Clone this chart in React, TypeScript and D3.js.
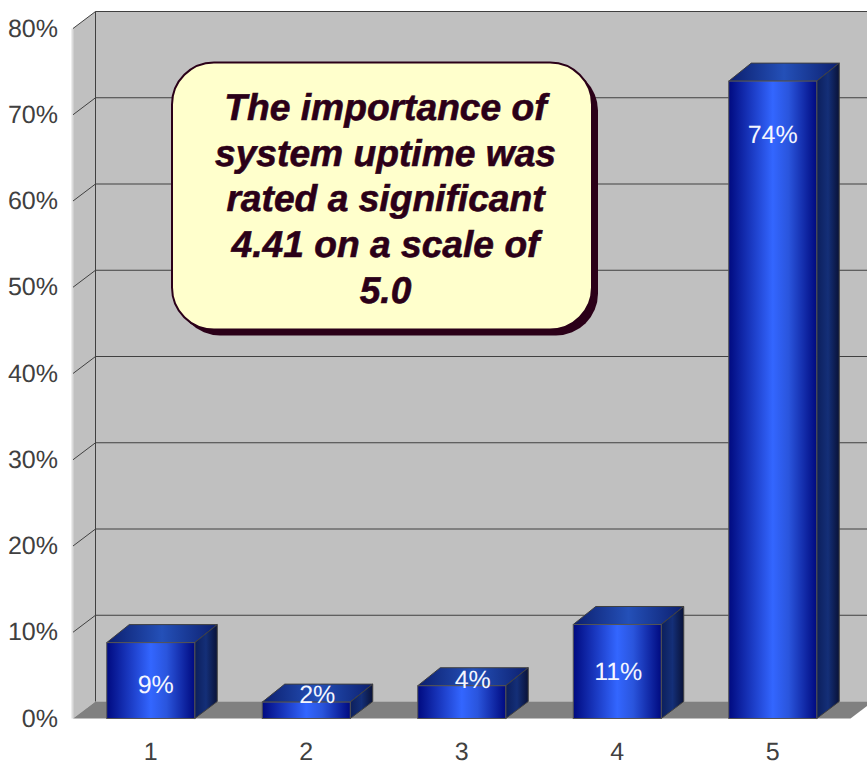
import * as React from "react";
import { range, scaleBand, scaleLinear } from "d3";

const categories = ["1", "2", "3", "4", "5"];
const values = [8.8, 1.9, 3.8, 10.9, 73.9];
const valueLabels = ["9%", "2%", "4%", "11%", "74%"];
// where each data label sits (axis units, px off bar centre), the source chart puts them unevenly
const labelLevels = [3.9, 2.7, 4.5, 5.4, 67.7];
const labelShifts = [5, 11, 11, 1, 0];
const calloutLines = [
  "The importance of",
  "system uptime was",
  "rated a significant",
  "4.41 on a scale of",
  "5.0",
];
const tickValues = range(0, 90, 10);

const width = 867;
const height = 783;
const depth = { x: 22.5, y: 17 };
const textColor = "#404040";
const gridColor = "#404040";
const calloutInk = "#2b0018";

const scaleY = scaleLinear().domain([0, 80]).range([718.5, 28.5]);
const scaleX = scaleBand()
  .domain(categories)
  .range([73, 850.5])
  .paddingInner(0.434)
  .paddingOuter(0.217);

function points(list: number[][]) {
  return list.map((p) => p.join(",")).join(" ");
}

function Gradients() {
  return (
    <defs>
      <linearGradient id="barFront" x1="0" x2="1" y1="0" y2="0">
        <stop offset="0" stopColor="#000a80" />
        <stop offset="0.5" stopColor="#3366ff" />
        <stop offset="0.68" stopColor="#2a55dd" />
        <stop offset="1" stopColor="#000a80" />
      </linearGradient>
      <linearGradient id="barTop" x1="0" x2="1" y1="0" y2="0">
        <stop offset="0" stopColor="#0c1f6e" />
        <stop offset="0.5" stopColor="#2450b8" />
        <stop offset="1" stopColor="#0c1f6e" />
      </linearGradient>
      <linearGradient id="barSide" x1="0" x2="1" y1="0" y2="0">
        <stop offset="0" stopColor="#0c1f5c" />
        <stop offset="0.5" stopColor="#142f78" />
        <stop offset="1" stopColor="#091238" />
      </linearGradient>
    </defs>
  );
}

function Walls() {
  const x0 = 73;
  const x1 = 850.5;
  const top = scaleY(80);
  const bottom = scaleY(0);
  return (
    <g>
      <rect x={x0 + depth.x} y={top - depth.y} width={width} height={bottom - top} fill="#c0c0c0" />
      <polygon
        points={points([
          [x0, top],
          [x0 + depth.x, top - depth.y],
          [x0 + depth.x, bottom - depth.y],
          [x0, bottom],
        ])}
        fill="#c0c0c0"
      />
      <polygon
        points={points([
          [x0, bottom],
          [x0 + depth.x, bottom - depth.y],
          [x1 + depth.x, bottom - depth.y],
          [x1, bottom],
        ])}
        fill="#808080"
      />
      <line x1={x0 - 0.5} x2={x0 - 0.5} y1={top} y2={bottom} stroke="#dcdcdc" strokeWidth={2} />
      {tickValues.map((t) => (
        <polyline
          key={`grid-${t}`}
          points={points([
            [x0, scaleY(t)],
            [x0 + depth.x, scaleY(t) - depth.y],
            [width, scaleY(t) - depth.y],
          ])}
          stroke={t === 0 ? "none" : gridColor}
          fill="none"
        />
      ))}
      <line
        x1={x0 + depth.x}
        x2={x0 + depth.x}
        y1={top - depth.y}
        y2={bottom - depth.y}
        stroke={gridColor}
      />
    </g>
  );
}

function Bars() {
  const bw = scaleX.bandwidth();
  return (
    <g>
      {categories.map((c, i) => {
        const x = scaleX(c) as number;
        const yTop = scaleY(values[i]);
        const yBase = scaleY(0);
        return (
          <g key={`bar-${c}`}>
            <polygon
              points={points([
                [x, yTop],
                [x + depth.x, yTop - depth.y - 1],
                [x + bw + depth.x, yTop - depth.y - 1],
                [x + bw, yTop],
              ])}
              fill="url(#barTop)"
              stroke="#404040"
            />
            <polygon
              points={points([
                [x + bw, yTop],
                [x + bw + depth.x, yTop - depth.y - 1],
                [x + bw + depth.x, yBase - depth.y],
                [x + bw, yBase],
              ])}
              fill="url(#barSide)"
              stroke="#404040"
            />
            <rect x={x} y={yTop} width={bw} height={yBase - yTop} fill="url(#barFront)" stroke="#555555" />
          </g>
        );
      })}
      {categories.map((c, i) => (
        <text
          key={`label-${c}`}
          x={(scaleX(c) as number) + bw / 2 + labelShifts[i]}
          y={scaleY(labelLevels[i])}
          textAnchor="middle"
          dominantBaseline="central"
          fontSize={25}
          fill="#f4f6ff"
        >
          {valueLabels[i]}
        </text>
      ))}
    </g>
  );
}

function Axes() {
  return (
    <g fill={textColor} fontSize={25}>
      {tickValues.map((t) => (
        <text key={`tick-${t}`} x={58} y={scaleY(t) + 8} textAnchor="end">
          {t}%
        </text>
      ))}
      {categories.map((c) => (
        <text
          key={`cat-${c}`}
          x={(scaleX(c) as number) + scaleX.bandwidth() / 2}
          y={760}
          textAnchor="middle"
        >
          {c}
        </text>
      ))}
    </g>
  );
}

function Callout() {
  const box = { x: 172, y: 62.5, w: 420, h: 267, r: 42 };
  return (
    <g>
      <rect x={box.x + 6} y={box.y + 6} width={box.w} height={box.h} rx={box.r} fill={calloutInk} />
      <rect
        x={box.x}
        y={box.y}
        width={box.w}
        height={box.h}
        rx={box.r}
        fill="#ffffcc"
        stroke={calloutInk}
        strokeWidth={2}
      />
      <g
        fontSize={37.2}
        fontWeight="bold"
        fontStyle="italic"
        fill={calloutInk}
        stroke={calloutInk}
        strokeWidth={0.6}
        textAnchor="middle"
      >
        {calloutLines.map((line, i) => (
          <text key={`line-${i}`} x={385.5} y={120 + i * 45.7}>
            {line}
          </text>
        ))}
      </g>
    </g>
  );
}

export default function App() {
  return (
    <svg
      width={width}
      height={height}
      style={{ position: "absolute", left: 0, top: 0, background: "#ffffff" }}
      fontFamily="'Liberation Sans', Arial, sans-serif"
      textRendering="geometricPrecision"
    >
      <Gradients />
      <Walls />
      <Bars />
      <Axes />
      <Callout />
    </svg>
  );
}
